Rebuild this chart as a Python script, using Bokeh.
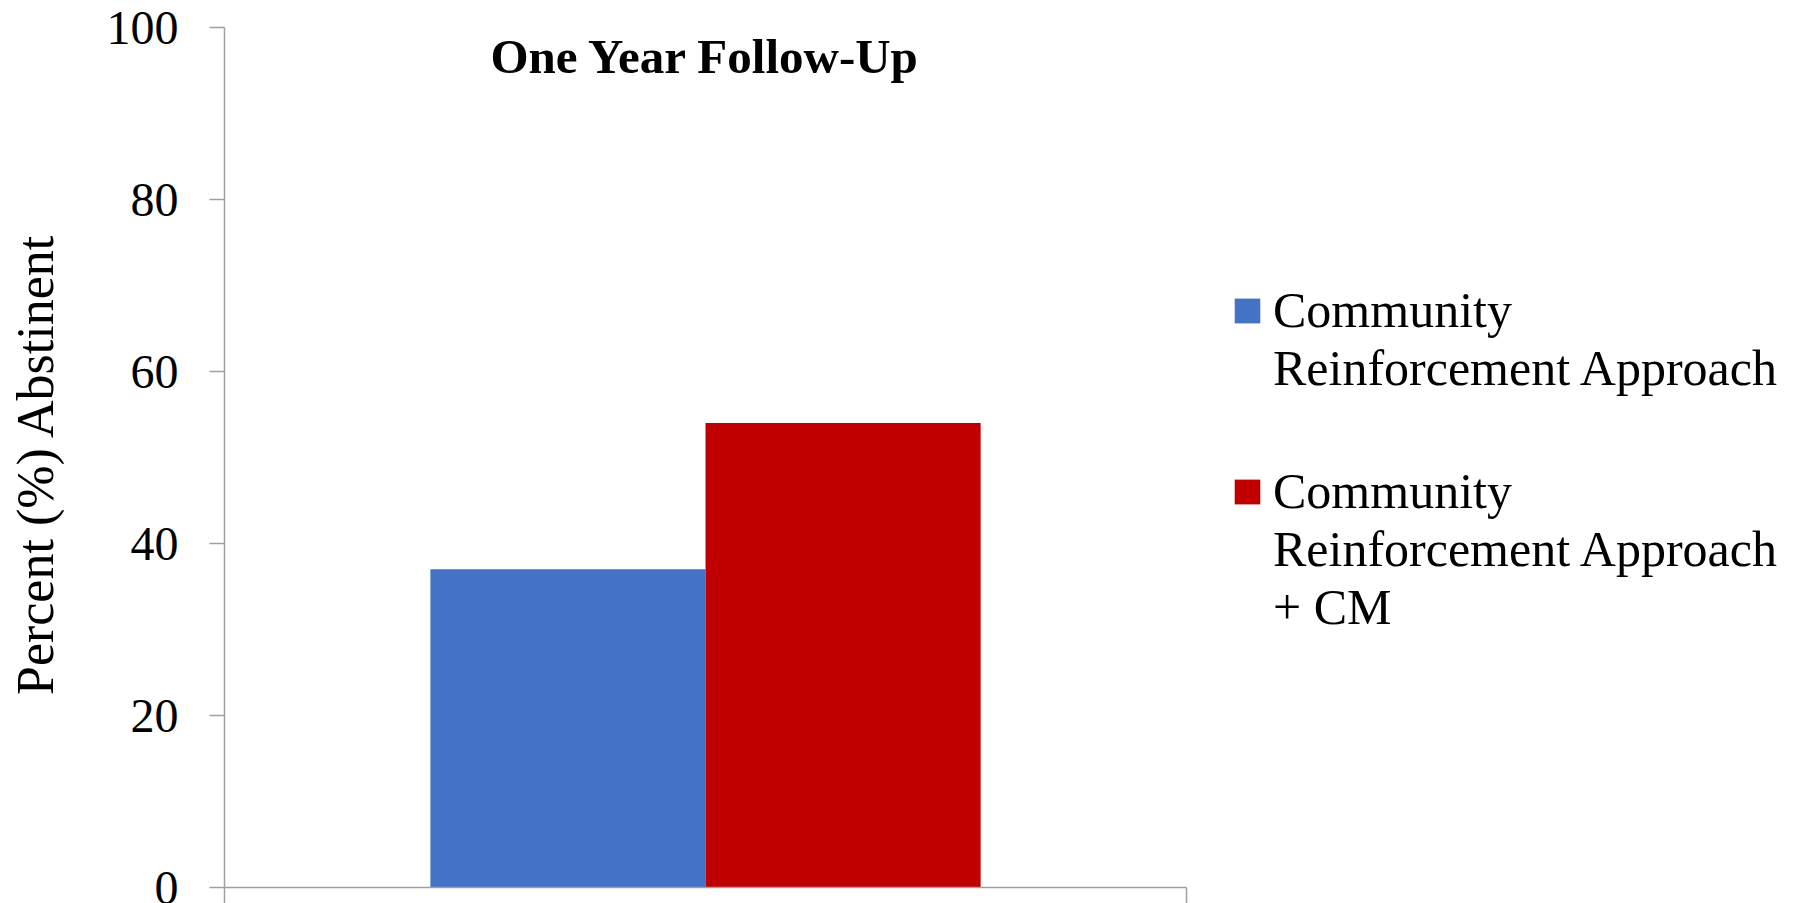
from bokeh.plotting import figure
from bokeh.models import (ColumnDataSource, Range1d, FixedTicker, Legend, LegendItem, Label)
from bokeh.transform import dodge
from bokeh.embed import file_html
from bokeh.resources import INLINE

# ---- data ----
periods = ["One Year Follow-Up"]
cra = [37]
cra_cm = [54]
series_lines = [["Community", "Reinforcement Approach"],
                ["Community", "Reinforcement Approach", "+ CM"]]
series_colors = ["#4472C4", "#C00000"]
y_ticks = [0, 20, 40, 60, 80, 100]
y_label = "Percent  (%) Abstinent"
chart_title = "One Year Follow-Up"

FONT = "Liberation Serif"
LEGEND_ROOM = 0.633  # extra x-range (in category widths) to the right, where the legend sits

idx = list(range(len(periods)))
source = ColumnDataSource(data=dict(idx=idx, period=periods, cra=cra, cra_cm=cra_cm))

p = figure(width=1795, height=903, output_backend="svg", toolbar_location=None,
           x_range=Range1d(-0.5, len(periods) - 0.5 + LEGEND_ROOM), y_range=Range1d(0, 100),
           min_border_left=224, min_border_right=0, min_border_top=27,
           min_border_bottom=15)
p.outline_line_color = None
p.grid.visible = False
p.background_fill_color = "white"
p.border_fill_color = "white"

bw = 0.286
r1 = p.vbar(x=dodge("idx", -bw / 2), top="cra", width=bw,
            source=source, fill_color=series_colors[0], line_color=None)
r2 = p.vbar(x=dodge("idx", bw / 2), top="cra_cm", width=bw,
            source=source, fill_color=series_colors[1], line_color=None)

edges = [i - 0.5 for i in range(len(periods) + 1)]
xax = p.xaxis[0]
xax.ticker = FixedTicker(ticks=edges)
xax.bounds = (edges[0], edges[-1])
xax.major_tick_out = 16
xax.major_tick_in = 0
xax.minor_tick_line_color = None
xax.major_label_text_font_size = "0px"
xax.major_label_standoff = 0
xax.axis_line_color = "#A0A0A0"
xax.major_tick_line_color = "#A0A0A0"
xax.axis_line_width = 1.5
xax.major_tick_line_width = 1.5

yax = p.yaxis[0]
yax.ticker = FixedTicker(ticks=y_ticks)
yax.minor_tick_line_color = None
yax.major_tick_out = 15
yax.major_tick_in = 0
yax.axis_line_color = "#A0A0A0"
yax.major_tick_line_color = "#A0A0A0"
yax.axis_line_width = 1.5
yax.major_tick_line_width = 1.5
yax.major_label_text_font = FONT
yax.major_label_text_font_size = "48px"
yax.major_label_text_color = "black"
yax.major_label_standoff = 31
yax.axis_label = y_label
yax.axis_label_text_font = FONT
yax.axis_label_text_font_size = "52px"
yax.axis_label_text_font_style = "normal"
yax.axis_label_text_color = "black"
yax.axis_label_standoff = 40

title = Label(x=idx[0], y=96.6, text=chart_title,
              text_font=FONT, text_font_size="49px", text_font_style="bold",
              text_align="center", text_baseline="alphabetic", text_color="black")
p.add_layout(title)


def make_legend(lines, renderer, loc):
    items = [LegendItem(label=lines[0], renderers=[renderer])]
    items += [LegendItem(label=t, renderers=[]) for t in lines[1:]]
    return Legend(items=items, location=loc, orientation="vertical",
                  glyph_width=32, glyph_height=31, label_standoff=10,
                  label_text_font=FONT, label_text_font_size="50px",
                  label_text_color="black", spacing=0, padding=0, margin=0,
                  border_line_color=None, background_fill_alpha=0)


p.add_layout(make_legend(series_lines[0], r1, (1007, 490)))
p.add_layout(make_legend(series_lines[1], r2, (1007, 251)))

open("out.html", "w").write(file_html(p, INLINE))
